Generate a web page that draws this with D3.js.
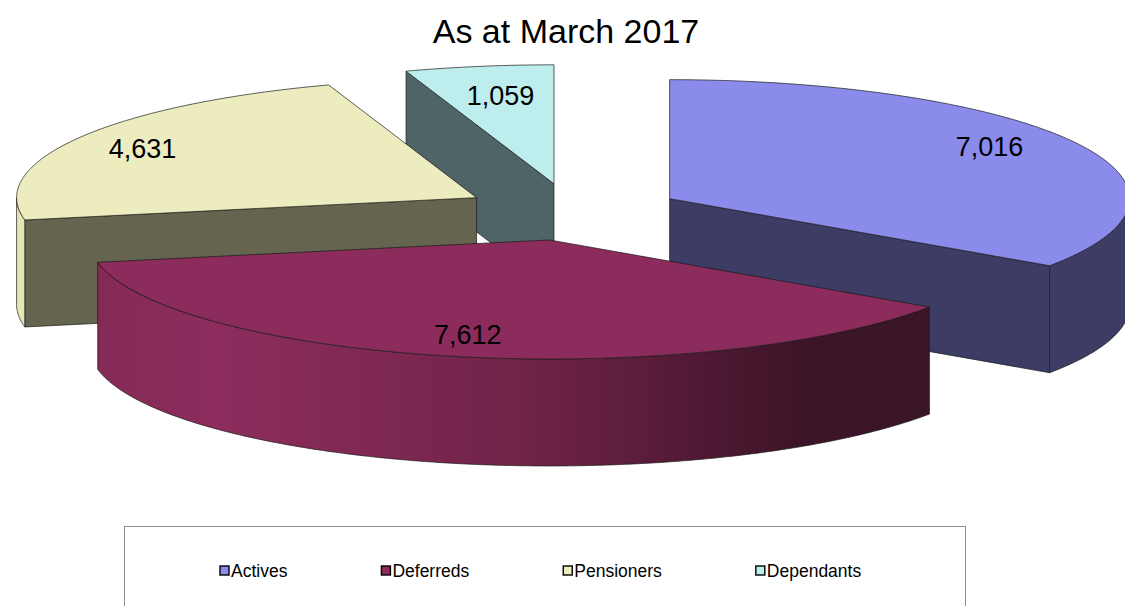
<!DOCTYPE html>
<html>
<head>
<meta charset="utf-8">
<script src="https://cdn.jsdelivr.net/npm/d3@7"></script>
<style>
  html, body { margin: 0; padding: 0; background: #fff; }
  svg { display: block; font-family: "Liberation Sans", Arial, sans-serif; }
</style>
</head>
<body>
<svg id="chart" width="1125" height="606"></svg>
<script>
// Membership counts
const categories = ["Actives", "Deferreds", "Pensioners", "Dependants"];
const values = [7016, 7612, 4631, 1059];
const valueLabels = ["7,016", "7,612", "4,631", "1,059"];
const topColors = ["#8b8beb", "#8b2c5c", "#ececbf", "#bdeeed"];
const sideColors = ["#3c3c64", "#6a2046", "#64644f", "#4f6466"];
const rimColors = ["#3c3c64", "url(#rimGrad)", "#e6e6b4", "#4f6466"];

const svg = d3.select("#chart");

// Title
svg.append("text")
  .attr("x", 566).attr("y", 43)
  .attr("text-anchor", "middle")
  .attr("font-size", 34)
  .attr("fill", "#000")
  .text("As at March 2017");

// Gradient for the front rim of the large slice
const defs = svg.append("defs");
const grad = defs.append("linearGradient")
  .attr("id", "rimGrad")
  .attr("gradientUnits", "userSpaceOnUse")
  .attr("x1", 95).attr("x2", 930).attr("y1", 0).attr("y2", 0);
[[0, "#852a57"], [0.15, "#8c2d5d"], [0.5, "#722449"], [0.84, "#3e1428"], [1, "#3a1527"]]
  .forEach(([o, c]) => grad.append("stop").attr("offset", o).attr("stop-color", c));

// Ellipse geometry of the tilted pie
const rx = 460, ry = 119, depth = 107, explode = 0.24;
const center = [572, 212];

const pie = d3.pie().sort(null).value(d => d)
  .startAngle(0).endAngle(2 * Math.PI);
const arcs = pie(values);

// Projection of an angle (clockwise from 12 o'clock) onto the ellipse
const sx = d3.scaleLinear().domain([-1, 1]).range([-rx, rx]);
const sy = d3.scaleLinear().domain([-1, 1]).range([-ry, ry]);
function pt(c, a, r = 1, dy = 0) {
  return [c[0] + sx(r * Math.sin(a)), c[1] + sy(-r * Math.cos(a)) + dy];
}
function arcPts(c, a0, a1, dy = 0) {
  const n = Math.max(2, Math.ceil((a1 - a0) / 0.01));
  return d3.range(n + 1).map(i => pt(c, a0 + (a1 - a0) * i / n, 1, dy));
}
const line = d3.line().curve(d3.curveLinear);

const slices = arcs.map((d, i) => {
  const mid = (d.startAngle + d.endAngle) / 2;
  const off = pt([0, 0], mid, explode);
  return { d, i, c: [center[0] + off[0], center[1] + off[1]] };
});

function outline(sel) {
  return sel.attr("stroke", "#1a1a1a").attr("stroke-width", 0.7).attr("stroke-linejoin", "round");
}

// Painter's order: back to front
const order = [3, 2, 0, 1];
const g = svg.append("g");

order.forEach(idx => {
  const s = slices[idx];
  const { startAngle: a0, endAngle: a1 } = s.d;
  const c = s.c;
  const sg = g.append("g");

  // Cut faces turned towards the viewer
  const faces = [];
  if (a0 > Math.PI) faces.push(a0);                       // start edge on the left half
  if (a1 > Math.PI / 2 && a1 < Math.PI) faces.push(a1);   // end edge on the lower right
  faces.forEach(a => {
    const p = pt(c, a);
    const poly = [c, p, [p[0], p[1] + depth], [c[0], c[1] + depth]];
    outline(sg.append("path").attr("d", line(poly) + "Z").attr("fill", sideColors[idx]));
  });

  // Outer rim on the front half
  const r0 = Math.max(a0, Math.PI / 2), r1 = Math.min(a1, 3 * Math.PI / 2);
  if (r1 > r0) {
    const top = arcPts(c, r0, r1);
    const bot = arcPts(c, r0, r1, depth).reverse();
    outline(sg.append("path").attr("d", line(top.concat(bot)) + "Z").attr("fill", rimColors[idx]));
  }

  // Top face
  const topPts = [c].concat(arcPts(c, a0, a1));
  outline(sg.append("path").attr("d", line(topPts) + "Z").attr("fill", topColors[idx]));
});

// Value labels placed on the top faces
const labelPos = [0.86, 0.5, 0.78, 0.78];
const labelShift = [[-30, -4], [-35, 37], [-24, -2], [5, 4]];
slices.forEach(s => {
  const mid = (s.d.startAngle + s.d.endAngle) / 2;
  const p = pt(s.c, mid, labelPos[s.i]);
  svg.append("text")
    .attr("x", p[0] + labelShift[s.i][0])
    .attr("y", p[1] + labelShift[s.i][1] + 9)
    .attr("text-anchor", "middle")
    .attr("font-size", 27)
    .attr("fill", "#000")
    .text(valueLabels[s.i]);
});

// Legend
const lg = svg.append("g");
lg.append("rect")
  .attr("x", 124.5).attr("y", 526.5).attr("width", 841).attr("height", 100)
  .attr("fill", "#fff").attr("stroke", "#8c8c8c").attr("stroke-width", 1);
let lx = 220;
categories.forEach((name, i) => {
  lg.append("rect")
    .attr("x", lx).attr("y", 566).attr("width", 9).attr("height", 9)
    .attr("fill", topColors[i]).attr("stroke", "#000").attr("stroke-width", 1.4);
  const t = lg.append("text")
    .attr("x", lx + 11).attr("y", 577)
    .attr("font-size", 17.5).attr("fill", "#000")
    .text(name);
  lx += 11 + t.node().getComputedTextLength() + 94;
});
</script>
</body>
</html>
